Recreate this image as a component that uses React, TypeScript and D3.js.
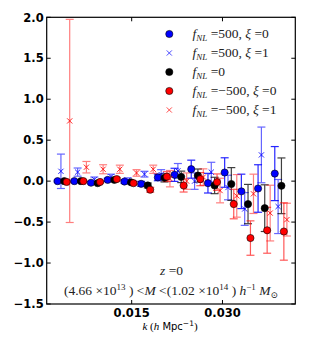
import React from "react"
import { scaleLinear } from "d3"

// k bins (h/Mpc)
const kBins = [0.00276, 0.00552, 0.00828, 0.01104, 0.0138, 0.01656, 0.01932, 0.02208, 0.02484, 0.0276, 0.03036, 0.03312, 0.03588, 0.03864]

const bluDot = [0.0, 0.0, -0.02, 0.015, -0.005, -0.033, 0.045, 0.077, 0.146, -0.025, 0.105, -0.125, -0.09, 0.092]
const bluDotErr = [0.012, 0.012, 0.015, 0.02, 0.02, 0.03, 0.04, 0.08, 0.11, 0.12, 0.18, 0.21, 0.29, 0.33]

const bluX = [0.12, 0.11, 0.02, 0.055, 0.01, 0.085, 0.08, 0.125, 0.0, 0.11, -0.078, -0.34, 0.32, -0.31]
const bluXErr = [0.21, 0.05, 0.03, 0.03, 0.03, 0.035, 0.06, 0.09, 0.1, 0.12, 0.15, 0.2, 0.34, 0.33]

const blk = [0.0, 0.0, -0.025, 0.015, -0.015, -0.053, 0.04, 0.052, 0.068, -0.053, -0.035, -0.28, -0.33, -0.057]
const blkErr = [0.01, 0.01, 0.015, 0.02, 0.02, 0.03, 0.05, 0.07, 0.08, 0.1, 0.2, 0.24, 0.285, 0.34]

const redDot = [-0.01, 0.0, -0.01, 0.025, -0.025, -0.105, 0.055, -0.053, 0.024, -0.012, -0.28, -0.695, -0.6, -0.615]
const redDotErr = [0.01, 0.01, 0.015, 0.02, 0.02, 0.03, 0.06, 0.08, 0.08, 0.1, 0.18, 0.21, 0.28, 0.35]

const redX = [0.735, 0.17, 0.145, 0.145, 0.1, 0.145, 0.03, 0.0, 0.05, -0.115, -0.18, -0.155, -0.39, -0.47]
const redXErr = [1.24, 0.07, 0.055, 0.05, 0.04, 0.05, 0.1, 0.1, 0.1, 0.15, 0.26, 0.24, 0.34, 0.2]

const yTicks = [-1.5, -1.0, -0.5, 0.0, 0.5, 1.0, 1.5, 2.0]
const xTicks = [0.015, 0.03]

const series = [
  { v: bluDot, e: bluDotErr, dk: 0, color: "#0000ff", marker: "o", barOp: 0.85, lab: ["500", "0"] },
  { v: bluX, e: bluXErr, dk: 0.00055, color: "#0000ff", marker: "x", barOp: 0.6, lab: ["500", "1"] },
  { v: blk, e: blkErr, dk: 0.0011, color: "#000000", marker: "o", barOp: 0.75, lab: ["0", null] },
  { v: redDot, e: redDotErr, dk: 0.0015, color: "#ff0000", marker: "o", barOp: 0.65, lab: ["\u2212500", "0"] },
  { v: redX, e: redXErr, dk: 0.002, color: "#ff0000", marker: "x", barOp: 0.5, lab: ["\u2212500", "1"] },
]

const L = 46.7, R = 295.3, T = 17.3, B = 304
const tickFont = "'DejaVu Sans', sans-serif"
const mathFont = "'Liberation Serif', 'DejaVu Serif', serif"

function Marker({ type, x, y, color, op = 1 }) {
  if (type === "o")
    return <circle cx={x} cy={y} r={3.6} fill={color} stroke="#000" strokeWidth={0.6} />
  const s = 2.6
  return (
    <path d={`M${x - s},${y - s}L${x + s},${y + s}M${x - s},${y + s}L${x + s},${y - s}`}
      stroke={color} strokeWidth={1} opacity={op} />
  )
}

export default function App() {
  const x = scaleLinear().domain([0.00096, 0.04203]).range([L, R])
  const y = scaleLinear().domain([-1.5, 2.0]).range([B, T])

  return (
    <svg width={311} height={348} style={{ position: "fixed", left: 0, top: 0, background: "#fff" }}>
      <defs>
        <clipPath id="pa"><rect x={L} y={T} width={R - L} height={B - T} /></clipPath>
      </defs>
      <g clipPath="url(#pa)">
        {series.map((s, si) => (
          <g key={"e" + si} stroke={s.color} opacity={s.barOp} strokeWidth={1.2}>
            {s.v.map((v, i) => {
              const cx = x(kBins[i] + s.dk)
              const y1 = y(v + s.e[i]), y2 = y(v - s.e[i])
              return (
                <g key={i}>
                  <line x1={cx} x2={cx} y1={y1} y2={y2} />
                  <line x1={cx - 4} x2={cx + 4} y1={y1} y2={y1} />
                  <line x1={cx - 4} x2={cx + 4} y1={y2} y2={y2} />
                </g>
              )
            })}
          </g>
        ))}
        {series.map((s, si) => (
          <g key={"m" + si}>
            {s.v.map((v, i) => (
              <Marker key={i} type={s.marker} x={x(kBins[i] + s.dk)} y={y(v)} color={s.color} op={0.85} />
            ))}
          </g>
        ))}
      </g>

      {/* frame */}
      <rect x={L} y={T} width={R - L} height={B - T} fill="none" stroke="#000" strokeWidth={1.2} />

      {/* y ticks */}
      {yTicks.map(t => (
        <g key={t}>
          <line x1={L} x2={L + 4} y1={y(t)} y2={y(t)} stroke="#000" />
          <line x1={R - 4} x2={R} y1={y(t)} y2={y(t)} stroke="#000" />
          <text x={L - 3} y={y(t) + 4.2} textAnchor="end" fontFamily={tickFont} fontWeight="bold" fontSize={11.5}>
            {(t < 0 ? "\u2212" : "") + Math.abs(t).toFixed(1)}
          </text>
        </g>
      ))}
      {/* x ticks */}
      {xTicks.map(t => (
        <g key={t}>
          <line x1={x(t)} x2={x(t)} y1={B} y2={B - 4} stroke="#000" />
          <line x1={x(t)} x2={x(t)} y1={T} y2={T + 4} stroke="#000" />
          <text x={x(t)} y={316.8} textAnchor="middle" fontFamily={tickFont} fontWeight="bold" fontSize={11.5}>
            {t.toFixed(3)}
          </text>
        </g>
      ))}

      {/* x label */}
      <text x={170} y={330} textAnchor="middle" fontSize={11}>
        <tspan fontFamily={mathFont} fontStyle="italic">k</tspan>
        <tspan fontFamily={mathFont}> (</tspan>
        <tspan fontFamily={mathFont} fontStyle="italic">h</tspan>
        <tspan fontFamily={tickFont} fontSize={10}> Mpc</tspan>
        <tspan fontFamily={tickFont} fontSize={7.5} dy={-4}>{"\u22121"}</tspan>
        <tspan fontFamily={mathFont} dy={4}>)</tspan>
      </text>

      {/* legend */}
      {series.map((s, si) => {
        const cy = 34 + si * 19
        return (
          <g key={"l" + si}>
            <Marker type={s.marker} x={169.3} y={cy} color={s.color} op={0.7} />
            <text x={192.5} y={cy + 4.4} fontFamily={mathFont} fontSize={13.5} fill="#222">
              <tspan fontStyle="italic">f</tspan>
              <tspan fontStyle="italic" fontSize={9} dy={2.5}>NL</tspan>
              <tspan dy={-2.5}>{" =" + s.lab[0]}</tspan>
              {s.lab[1] !== null && <tspan>{", "}</tspan>}
              {s.lab[1] !== null && <tspan fontStyle="italic">{"\u03be"}</tspan>}
              {s.lab[1] !== null && <tspan>{" =" + s.lab[1]}</tspan>}
            </text>
          </g>
        )
      })}

      {/* annotations */}
      <text x={171.5} y={275} textAnchor="middle" fontFamily={mathFont} fontSize={13.5} fill="#222">
        <tspan fontStyle="italic">z</tspan>
        <tspan>{" =0"}</tspan>
      </text>
      <text x={171} y={294.5} textAnchor="middle" fontFamily={mathFont} fontSize={13.5} fill="#222">
        <tspan>{"(4.66 \u00d710"}</tspan>
        <tspan fontSize={9} dy={-5}>13</tspan>
        <tspan dy={5}>{" ) <"}</tspan>
        <tspan fontStyle="italic">M</tspan>
        <tspan>{" <(1.02 \u00d710"}</tspan>
        <tspan fontSize={9} dy={-5}>14</tspan>
        <tspan dy={5}>{" ) "}</tspan>
        <tspan fontStyle="italic">h</tspan>
        <tspan fontSize={9} dy={-5}>{"\u22121"}</tspan>
        <tspan dy={5}>{" "}</tspan>
        <tspan fontStyle="italic">M</tspan>
        <tspan fontSize={9} dy={3}>{"\u2299"}</tspan>
      </text>
    </svg>
  )
}
